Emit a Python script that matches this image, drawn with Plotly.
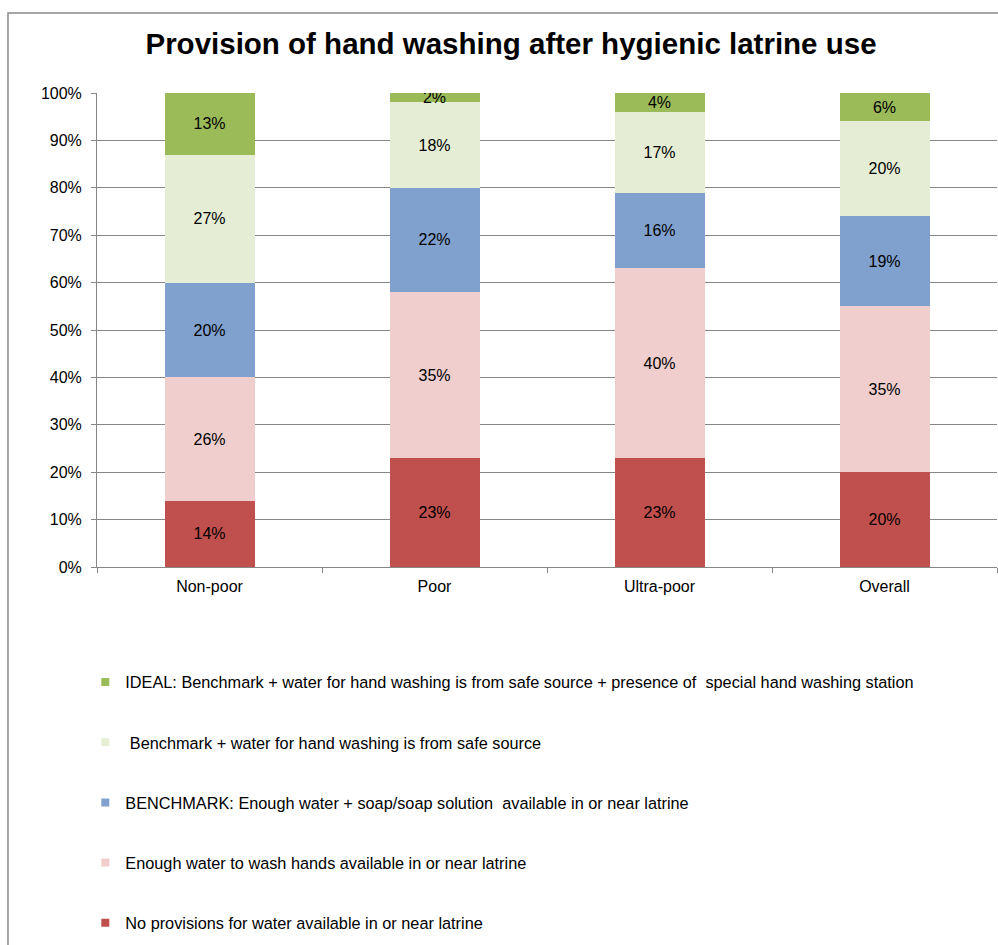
import plotly.graph_objects as go

# Wealth categories along the x axis
categories = ["Non-poor", "Poor", "Ultra-poor", "Overall"]

# Share of households (%) per provision level, bottom of stack first
no_provision = [14, 23, 23, 20]
enough_water = [26, 35, 40, 35]
benchmark = [20, 22, 16, 19]
benchmark_safe = [27, 18, 17, 20]
ideal = [13, 2, 4, 6]

series_names = [
    "No provisions for water available in or near latrine",
    "Enough water to wash hands available in or near latrine",
    "BENCHMARK: Enough water + soap/soap solution  available in or near latrine",
    " Benchmark + water for hand washing is from safe source",
    "IDEAL: Benchmark + water for hand washing is from safe source + presence of  special hand washing station",
]
series_values = [no_provision, enough_water, benchmark, benchmark_safe, ideal]
series_colors = ["#C0504D", "#EFCECD", "#80A0CE", "#E5EDD5", "#9BBB59"]

FONT = "Liberation Sans, Arial, sans-serif"
AXIS_GREY = "#868686"

fig = go.Figure()

for name, vals, col in zip(series_names, series_values, series_colors):
    fig.add_trace(go.Bar(
        x=categories,
        y=vals,
        name=name,
        marker=dict(color=col, line=dict(width=0)),
        text=[f"{v}%" for v in vals],
        textposition="inside",
        insidetextanchor="middle",
        textfont=dict(family=FONT, size=16, color="black"),
        showlegend=False,
        hoverinfo="skip",
    ))

# Small square legend keys, top series listed first
for i, (name, col) in enumerate(zip(series_names[::-1], series_colors[::-1])):
    fig.add_trace(go.Scatter(
        x=[None], y=[None],
        mode="markers",
        marker=dict(symbol="square", size=8, color=col),
        name=name,
        legendgroup=f"g{i}",
        showlegend=True,
    ))

# Outer chart frame
fig.add_shape(
    type="rect", xref="paper", yref="paper",
    x0=-0.0989, x1=1.02, y0=-0.83, y1=1.1688,
    line=dict(color="#8A8A8A", width=1.5),
    fillcolor="rgba(0,0,0,0)", layer="below",
)

fig.update_layout(
    width=998,
    height=945,
    margin=dict(l=97, r=1, t=93, b=378, autoexpand=False),
    paper_bgcolor="white",
    plot_bgcolor="white",
    barmode="stack",
    bargap=0.6,
    uniformtext=dict(minsize=16, mode="show"),
    font=dict(family=FONT, size=16, color="black"),
    title=dict(
        text="<b>Provision of hand washing after hygienic latrine use</b>",
        font=dict(family=FONT, size=29.5, color="black"),
        x=511 / 998, xanchor="center", xref="container",
        y=1 - 44 / 945, yanchor="middle", yref="container",
    ),
    legend=dict(
        x=-0.013, xanchor="left",
        y=-0.2066, yanchor="top",
        traceorder="grouped",
        tracegroupgap=36,
        font=dict(family=FONT, size=16.3, color="black"),
        bgcolor="rgba(0,0,0,0)",
        itemclick=False,
    ),
    xaxis=dict(
        showline=True, linecolor=AXIS_GREY, linewidth=1,
        ticks="outside", tickson="boundaries", ticklen=5, tickcolor=AXIS_GREY,
        showgrid=False,
        ticklabelstandoff=5,
        tickfont=dict(family=FONT, size=16, color="black"),
    ),
    yaxis=dict(
        range=[0, 100], dtick=10, ticksuffix="%",
        showline=True, linecolor=AXIS_GREY, linewidth=1,
        ticks="outside", ticklen=5, tickcolor=AXIS_GREY,
        showgrid=True, gridcolor=AXIS_GREY, gridwidth=1,
        zeroline=False,
        ticklabelstandoff=6,
        tickfont=dict(family=FONT, size=16, color="black"),
    ),
)

fig.write_html("out.html")
